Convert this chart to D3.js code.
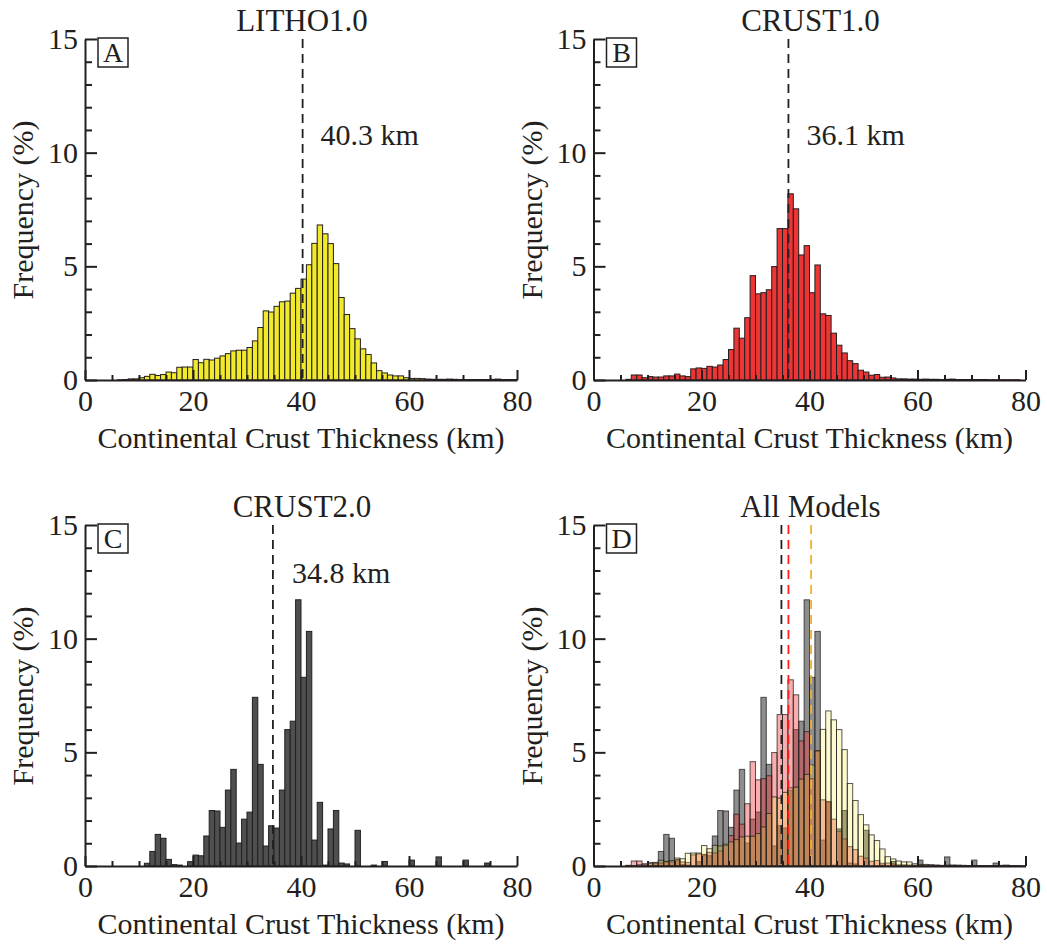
<!DOCTYPE html>
<html><head><meta charset="utf-8">
<script src="https://cdn.jsdelivr.net/npm/d3@7"></script>
<style>
body{margin:0;background:#fff}
text{font-family:"Liberation Serif","Times New Roman",serif;fill:#231f20}
</style></head>
<body><svg id="c" width="1047" height="944"></svg>
<script>
// bin start (km), 1-km bins
const bins = d3.range(0, 80);
const xTicks = d3.range(0, 81, 5);
const yTicks = d3.range(0, 16, 1);

const litho1 = [0,0,0,0,0,0,0.01,0.02,0.05,0.05,
  0.1,0.16,0.25,0.2,0.24,0.35,0.32,0.56,0.57,0.57,
  0.9,0.76,0.91,0.88,0.96,1.06,1.16,1.28,1.31,1.31,
  1.43,1.72,2.31,3.04,2.99,3.24,3.44,3.47,3.82,4.03,
  4.44,5.07,6.01,6.82,6.43,6.0,5.12,3.63,2.88,2.26,
  1.81,1.37,1.12,0.75,0.41,0.31,0.22,0.18,0.18,0.1,
  0.07,0.07,0.06,0.04,0.03,0.03,0.03,0.04,0.03,0.02,
  0.02,0.02,0.02,0.02,0.02,0.03,0.04,0.02,0.02,0.02];

const crust1 = [0,0,0,0,0,0,0.03,0.22,0.22,0.1,
  0.15,0.13,0.13,0.18,0.18,0.26,0.18,0.15,0.49,0.53,
  0.51,0.6,0.57,0.66,0.9,1.34,2.28,1.84,2.74,4.59,
  3.79,3.84,3.97,4.99,6.66,6.66,8.19,7.53,5.5,5.91,
  3.84,5.06,2.91,2.84,2.06,1.53,1.19,0.85,0.72,0.43,
  0.35,0.21,0.24,0.12,0.13,0.09,0.05,0.05,0.04,0.04,
  0.03,0.04,0.03,0.03,0.02,0.03,0.04,0.02,0.02,0.02,
  0.02,0.02,0.02,0.01,0.01,0.01,0.01,0.01,0.01,0];

const crust2 = [0,0,0,0,0,0,0,0,0,0,
  0,0.12,0.64,1.39,1.22,0.29,0.06,0.04,0,0.19,
  0.48,0.45,1.32,2.44,2.42,1.7,3.34,4.25,1.01,2.06,
  2.37,7.42,4.47,0.88,1.77,1.67,3.34,6.0,6.37,11.71,
  8.3,10.32,1.14,2.8,0.04,1.63,2.44,0.13,0.09,0,
  1.57,0,0,0.04,0,0.2,0,0,0,0,
  0.26,0,0,0,0,0.4,0,0,0,0,
  0.26,0,0,0,0.13,0,0,0,0,0];

const means = {litho1: 40.3, crust1: 36.1, crust2: 34.8};
const titles = ["LITHO1.0", "CRUST1.0", "CRUST2.0", "All Models"];
const letters = ["A", "B", "C", "D"];

const svg = d3.select("#c");
const W = 432, H = 341;

const S = {
  litho1: {values: litho1, fill: "#f1e92b", mean: means.litho1, dash: "#f2b124"},
  crust1: {values: crust1, fill: "#ee3535", mean: means.crust1, dash: "#ff1f1f"},
  crust2: {values: crust2, fill: "#4f4f4f", mean: means.crust2, dash: "#231f20"}
};

const panels = [
  {x0: 85, y0: 380, series: [{s: S.litho1, op: 1}], lines: [{s: S.litho1, c: "#231f20"}], label: {txt: "40.3 km", dx: 18, y: 145}},
  {x0: 593.5, y0: 380, series: [{s: S.crust1, op: 1}], lines: [{s: S.crust1, c: "#231f20"}], label: {txt: "36.1 km", dx: 18, y: 145}},
  {x0: 85, y0: 866, series: [{s: S.crust2, op: 1}], lines: [{s: S.crust2, c: "#231f20"}], label: {txt: "34.8 km", dx: 19, y: 583}},
  {x0: 593.5, y0: 866, series: [{s: S.crust2, op: 0.64}, {s: S.crust1, op: 0.4}, {s: S.litho1, op: 0.22}],
    lines: [{s: S.crust2, c: S.crust2.dash}, {s: S.crust1, c: S.crust1.dash}, {s: S.litho1, c: S.litho1.dash}], label: null}
];

panels.forEach((p, pi) => {
  const g = svg.append("g");
  const x = d3.scaleLinear().domain([0, 80]).range([p.x0, p.x0 + W]);
  const y = d3.scaleLinear().domain([0, 15]).range([p.y0, p.y0 - H]);

  p.series.forEach(ser => {
    const data = ser.s.values.map((v, i) => ({b: bins[i], v})).filter(d => d.v > 0);
    g.append("g").selectAll("rect").data(data).join("rect")
      .attr("x", d => x(d.b))
      .attr("width", x(1) - x(0))
      .attr("y", d => y(d.v))
      .attr("height", d => y(0) - y(d.v))
      .attr("fill", ser.s.fill)
      .attr("fill-opacity", ser.op)
      .attr("stroke", "#231f20")
      .attr("stroke-opacity", pi === 3 ? 0.75 : 1)
      .attr("stroke-width", 1);
  });

  p.lines.forEach(l => {
    g.append("line")
      .attr("x1", x(l.s.mean)).attr("x2", x(l.s.mean))
      .attr("y1", y(15)).attr("y2", y(0))
      .attr("stroke", l.c).attr("stroke-width", 1.8)
      .attr("stroke-dasharray", "9,6");
  });

  const xa = g.append("g").attr("transform", `translate(0,${p.y0})`)
    .call(d3.axisBottom(x).tickValues(xTicks).tickSize(-5).tickSizeOuter(0)
      .tickPadding(10).tickFormat(d => d % 20 === 0 ? d : ""));
  xa.selectAll(".tick line").filter(d => d % 20 === 0).attr("y2", -10);

  const ya = g.append("g").attr("transform", `translate(${p.x0},0)`)
    .call(d3.axisLeft(y).tickValues(yTicks).tickSize(-7).tickSizeOuter(0)
      .tickPadding(7).tickFormat(d => d % 5 === 0 ? d : ""));
  ya.selectAll(".tick line").filter(d => d % 5 === 0).attr("x2", 12);

  [xa, ya].forEach(a => {
    a.select(".domain").attr("stroke", "#231f20").attr("stroke-width", 2);
    a.selectAll(".tick line").attr("stroke", "#231f20").attr("stroke-width", 2);
    a.selectAll("text").attr("font-size", 30).attr("fill", "#231f20")
      .style("font-family", '"Liberation Serif","Times New Roman",serif');
  });

  // title
  g.append("text").attr("x", p.x0 + 217).attr("y", p.y0 - H - 8)
    .attr("text-anchor", "middle").attr("font-size", 31).text(titles[pi]);
  // panel letter box
  g.append("rect").attr("x", p.x0 + 13).attr("y", p.y0 - H - 1).attr("width", 30).attr("height", 29)
    .attr("fill", "#fff").attr("stroke", "#231f20").attr("stroke-width", 1.5);
  g.append("text").attr("x", p.x0 + 28).attr("y", p.y0 - H + 23)
    .attr("text-anchor", "middle").attr("font-size", 28).text(letters[pi]);
  // axis labels
  g.append("text").attr("x", p.x0 + 216).attr("y", p.y0 + 68)
    .attr("text-anchor", "middle").attr("font-size", 30).text("Continental Crust Thickness (km)");
  g.append("text").attr("transform", `translate(${p.x0 - 52},${p.y0 - 170}) rotate(-90)`)
    .attr("text-anchor", "middle").attr("font-size", 30).text("Frequency (%)");
  // mean label
  if (p.label) {
    g.append("text").attr("x", x(p.lines[0].s.mean) + p.label.dx).attr("y", p.label.y)
      .attr("font-size", 30).text(p.label.txt);
  }
});
</script></body></html>
